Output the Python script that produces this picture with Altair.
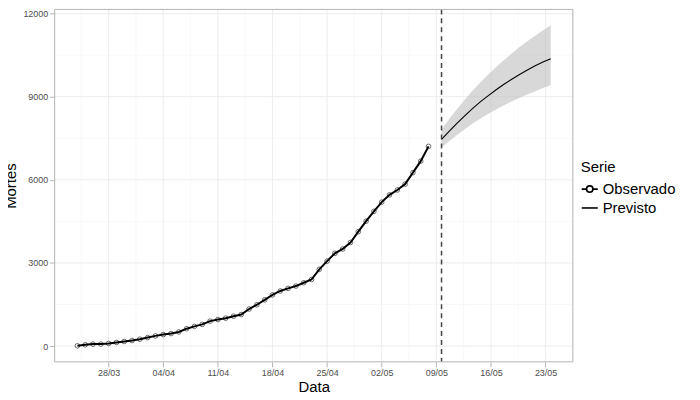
import altair as alt
import pandas as pd

obs_start = "2020-03-24"
obs_values = [10, 46, 71, 71, 95, 130, 166, 201, 248, 308, 367, 414, 450, 509, 627, 710,
              781, 899, 958, 1006, 1077, 1136, 1337, 1491, 1668, 1846, 1988, 2082, 2165,
              2284, 2402, 2769, 3065, 3349, 3503, 3739, 4129, 4508, 4863, 5194, 5456,
              5633, 5846, 6259, 6674, 7206]
fc_start = "2020-05-09T16:00"
fc_mean = [7457, 7760, 8050, 8320, 8580, 8820, 9040, 9250, 9450, 9630, 9800, 9960, 10120, 10250, 10370]
fc_low = [7170, 7400, 7620, 7830, 8030, 8210, 8380, 8540, 8690, 8830, 8960, 9080, 9200, 9310, 9420]
fc_high = [7820, 8200, 8560, 8900, 9220, 9520, 9800, 10070, 10320, 10560, 10790, 11000, 11200, 11400, 11580]
cut_date = "2020-05-09T16:00"
x_ticks = ["2020-03-28", "2020-04-04", "2020-04-11", "2020-04-18", "2020-04-25",
           "2020-05-02", "2020-05-09", "2020-05-16", "2020-05-23"]
y_ticks = [0, 3000, 6000, 9000, 12000]

obs = pd.DataFrame({"Data": pd.date_range(obs_start, periods=len(obs_values), freq="D"),
                    "Mortes": obs_values, "Serie": "Observado"})
fc = pd.DataFrame({"Data": pd.date_range(fc_start, periods=len(fc_mean), freq="D"),
                   "Mortes": fc_mean, "lo": fc_low, "hi": fc_high, "Serie": "Previsto"})
minor_x = pd.DataFrame({"d": [pd.Timestamp(t) + pd.Timedelta(hours=84) for t in ["2020-03-21"] + x_ticks]})
minor_y = pd.DataFrame({"v": [1500, 4500, 7500, 10500]})
major_x = pd.DataFrame({"d": pd.to_datetime(x_ticks)})
major_y = pd.DataFrame({"v": y_ticks})
for df in (obs, fc, major_x, minor_x):
    for c in df.columns:
        if pd.api.types.is_datetime64_any_dtype(df[c]):
            df[c] = df[c].dt.strftime("%Y-%m-%dT%H:%M:%S")

xdom = ["2020-03-21T02:00:00", "2020-05-26T12:00:00"]
xsc = alt.Scale(domain=xdom, nice=False)
ysc = alt.Scale(domain=[-570, 12150], nice=False, zero=False)
grid = "#ebebeb"

X = alt.X("Data:T", scale=xsc, title="Data",
          axis=alt.Axis(values=x_ticks, format="%d/%m", grid=False, labelColor="#4d4d4d",
                        labelFontSize=9, tickColor="#b3b3b3", domain=False, titleFontSize=15,
                        titleFontWeight="normal", titleColor="black", labelFont="Liberation Sans",
                        titleFont="Liberation Sans", titlePadding=2))
Y = alt.Y("Mortes:Q", scale=ysc, title="Mortes",
          axis=alt.Axis(values=y_ticks, format="d", grid=False, labelColor="#4d4d4d", labelFontSize=9,
                        tickColor="#b3b3b3", domain=False, titleFontSize=15,
                        titleFontWeight="normal", titleColor="black", labelFont="Liberation Sans",
                        titleFont="Liberation Sans", titlePadding=4))

gx_minor = alt.Chart(minor_x).mark_rule(color="#f3f3f3", strokeWidth=0.6).encode(x=alt.X("d:T", scale=xsc))
gy_minor = alt.Chart(minor_y).mark_rule(color="#f3f3f3", strokeWidth=0.6).encode(y=alt.Y("v:Q", scale=ysc))
gx = alt.Chart(major_x).mark_rule(color=grid, strokeWidth=0.9).encode(x=alt.X("d:T", scale=xsc))
gy = alt.Chart(major_y).mark_rule(color=grid, strokeWidth=0.9).encode(y=alt.Y("v:Q", scale=ysc))

band = alt.Chart(fc).mark_area(color="#bebebe", opacity=0.6).encode(x=X, y=alt.Y("lo:Q", scale=ysc), y2="hi:Q")
fline = alt.Chart(fc).mark_line(color="black", strokeWidth=1.1).encode(x=X, y=Y)
oline = alt.Chart(obs).mark_line(color="black", strokeWidth=2).encode(x=X, y=Y)
opts = alt.Chart(obs).mark_point(color="black", filled=False, size=22, strokeWidth=0.8).encode(x=X, y=Y)
cut = alt.Chart(pd.DataFrame({"d": [cut_date]})).mark_rule(color="#444444", strokeDash=[5, 4], strokeWidth=1.5).encode(x=alt.X("d:T", scale=xsc))

leg_df = pd.DataFrame({"Data": [obs["Data"][0]] * 2, "Mortes": [0, 0], "Serie": ["Observado", "Previsto"]})
legend_layer = alt.Chart(leg_df).mark_point(opacity=0).encode(
    x=X, y=Y,
    shape=alt.Shape("Serie:N", scale=alt.Scale(
        domain=["Observado", "Previsto"],
        range=["M-1,0L-0.4,0M0.4,0L1,0M0.4,0A0.4,0.4 0 1,1 -0.4,0A0.4,0.4 0 1,1 0.4,0", "M-1,0L1,0"]),
        legend=alt.Legend(title="Serie", orient="none", legendX=530, legendY=152,
                          titleFontSize=15, titleFontWeight="normal", labelFontSize=15,
                          titleFont="Liberation Sans", labelFont="Liberation Sans",
                          symbolSize=260, symbolStrokeColor="black", symbolStrokeWidth=1.6,
                          symbolFillColor="transparent", symbolOpacity=1, rowPadding=2)))

border = alt.Chart(pd.DataFrame({"a": [0]})).mark_rect(fill=None, stroke="#b3b3b3", strokeWidth=1).encode(
    x=alt.value(0), x2=alt.value(522), y=alt.value(0), y2=alt.value(355))

chart = alt.layer(gx_minor, gy_minor, gx, gy, band, fline, oline, opts, cut, legend_layer, border).properties(
    width=522, height=355, autosize=alt.AutoSizeParams(type="none"),
    padding={"left": 47, "top": 0, "right": 120, "bottom": 36}
).configure_view(stroke=None)

chart.save("out.html", embed_options={"renderer": "svg", "actions": False})
